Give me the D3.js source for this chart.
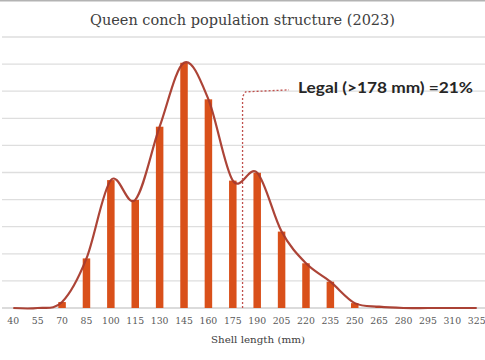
<!DOCTYPE html>
<html><head><meta charset="utf-8">
<script src="https://cdn.jsdelivr.net/npm/d3@7"></script>
<style>body{margin:0;background:#fff} svg{display:block}</style>
</head><body><svg id="c" width="485" height="360"></svg>
<script>
// ---- data ----
const sizeClasses = [40,55,70,85,100,115,130,145,160,175,190,205,220,235,250,265,280,295,310,325];
const percent     = [0,0,0.44,3.66,9.44,7.98,13.38,18.1,15.4,9.4,9.98,5.64,3.3,1.94,0.36,0.1,0,0,0,0];
const yTicks = [0,2,4,6,8,10,12,14,16,18,20];
const title = "Queen conch population structure (2023)";
const xTitle = "Shell length (mm)";
const legalLabel = "Legal (>178 mm) =21%";
const legalMarkMm = 181;

// ---- layout ----
const W = 485, H = 360;
const svg = d3.select("#c");
const x = d3.scaleBand().domain(sizeClasses).range([1.1, 488.9]).paddingInner(0).paddingOuter(0);
const y = d3.scaleLinear().domain([0, 20]).range([308, 37]);
const xLin = d3.scaleLinear().domain([40, 325]).range([x(40) + x.bandwidth()/2, x(325) + x.bandwidth()/2]);

// top border
svg.append("line").attr("x1",0).attr("x2",W).attr("y1",0.8).attr("y2",0.8)
  .attr("stroke","#b3b3b3").attr("stroke-width",1.6);

// gridlines
svg.append("g").selectAll("line").data(yTicks).join("line")
  .attr("x1",2).attr("x2",W).attr("y1",d=>y(d)).attr("y2",d=>y(d))
  .attr("stroke", d=> d===0 ? "#cfcfcf" : "#dedede").attr("stroke-width",1.3);

// title
svg.append("text").attr("x",242.5).attr("y",25).attr("text-anchor","middle")
  .attr("font-family","DejaVu Serif").attr("font-size",14).attr("fill","#404040")
  .attr("textLength",305).attr("lengthAdjust","spacingAndGlyphs")
  .text(title);

// bars
const bw = 7.5;
svg.append("g").selectAll("rect").data(sizeClasses.map((c,i)=>({c, v:percent[i]}))).join("rect")
  .attr("x", d => x(d.c) + x.bandwidth()/2 - bw/2)
  .attr("width", bw)
  .attr("y", d => y(d.v))
  .attr("height", d => y(0) - y(d.v))
  .attr("fill", "#d9501a");

// smooth curve
const line = d3.line()
  .x((d,i) => x(sizeClasses[i]) + x.bandwidth()/2)
  .y(d => y(d))
  .curve(d3.curveCardinal.tension(0));
svg.append("path").datum(percent).attr("d", line)
  .attr("fill","none").attr("stroke","#a83a2c").attr("stroke-width",2.2)
  .attr("stroke-linejoin","round").attr("opacity",0.95);

// legal annotation
const cx = xLin(legalMarkMm);
svg.append("text").attr("x", 298).attr("y", y(15.85))
  .attr("font-family","Lato").attr("font-weight","bold").attr("font-size",15)
  .attr("fill","#262626")
  .attr("textLength",175).attr("lengthAdjust","spacingAndGlyphs")
  .text(legalLabel);
svg.append("path")
  .attr("d", d3.line()([[cx, y(0)], [cx, y(15.6)], [cx+3, y(15.95)], [289, y(16.1)]]))
  .attr("fill","none").attr("stroke","#c0504d").attr("stroke-width",1.3)
  .attr("stroke-dasharray","2,2");

// x axis tick labels
const xAxis = d3.axisBottom(x).tickSize(0).tickPadding(0);
const gx = svg.append("g").attr("transform",`translate(0,${y(0)+9.5})`).call(xAxis);
gx.select(".domain").remove();
gx.selectAll("text").attr("font-family","DejaVu Serif").attr("font-size",9.3)
  .attr("fill","#595959").attr("dy","0.71em");

// x axis title
svg.append("text").attr("x",258).attr("y",343).attr("text-anchor","middle")
  .attr("font-family","DejaVu Serif").attr("font-size",9.5).attr("fill","#404040")
  .attr("textLength",94).attr("lengthAdjust","spacingAndGlyphs")
  .text(xTitle);
</script></body></html>
